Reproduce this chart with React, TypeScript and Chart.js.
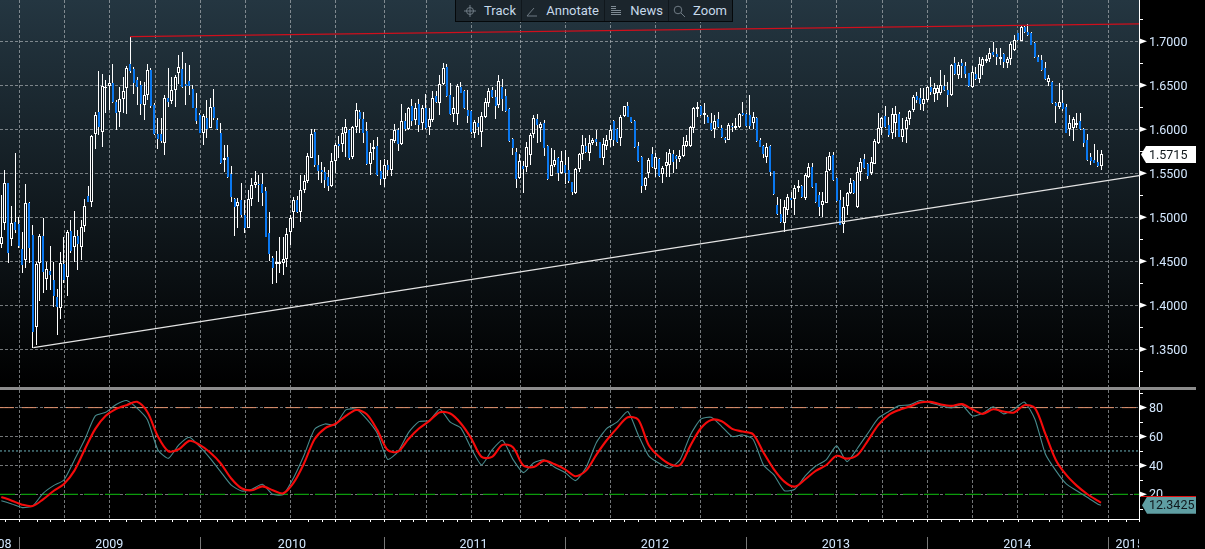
import React, { useEffect, useRef } from "react";
import { Chart, registerables } from "chart.js";

Chart.register(...registerables);

const opens = [
  1.4701,1.4932,1.5394,1.475,1.4947,1.4924,1.4636,1.4515,1.5159,1.4799,
  1.3758,1.4485,1.4788,1.4295,1.4394,1.4288,1.4091,1.3966,1.447,1.4326,
  1.4845,1.4667,1.4788,1.4659,1.4905,1.5242,1.5178,1.5943,1.6201,1.5973,
  1.6466,1.6492,1.6523,1.6314,1.6201,1.6341,1.6466,1.6739,1.6686,1.6561,
  1.6504,1.6273,1.6394,1.6674,1.6273,1.5947,1.5947,1.5841,1.636,1.6318,
  1.6443,1.6644,1.6682,1.6515,1.6549,1.6455,1.6246,1.6163,1.5962,1.6129,
  1.6019,1.6258,1.6106,1.5955,1.5655,1.5682,1.5492,1.5205,1.5133,1.5197,
  1.5023,1.4883,1.5205,1.5367,1.5379,1.5379,1.5295,1.4818,1.4538,1.4473,
  1.4466,1.4477,1.4523,1.483,1.5064,1.5193,1.5064,1.5307,1.5417,1.5678,
  1.5973,1.5595,1.5538,1.5515,1.5458,1.5356,1.564,1.583,1.5833,1.5962,
  1.5992,1.5689,1.603,1.6201,1.6117,1.5981,1.5606,1.5773,1.5811,1.5527,
  1.5439,1.5595,1.5534,1.5871,1.5992,1.5833,1.6095,1.6004,1.6269,1.6106,
  1.6284,1.6076,1.6242,1.6027,1.6106,1.6379,1.6295,1.6511,1.6705,1.639,
  1.6174,1.6174,1.6485,1.6436,1.622,1.6208,1.5962,1.6068,1.5973,1.6136,
  1.6303,1.6447,1.6364,1.628,1.6477,1.6379,1.6231,1.5886,1.5742,1.5447,
  1.5583,1.5568,1.5705,1.5951,1.6114,1.6011,1.6068,1.5807,1.5473,1.5598,
  1.5674,1.5508,1.5591,1.5534,1.5398,1.5273,1.5553,1.572,1.5811,1.5735,
  1.5841,1.5886,1.5852,1.5678,1.5814,1.5879,1.6095,1.6,1.5905,1.6155,
  1.6265,1.614,1.6095,1.5811,1.5686,1.536,1.5508,1.572,1.5549,1.5663,
  1.5496,1.5587,1.5595,1.5716,1.5701,1.5667,1.5697,1.5807,1.5814,1.6011,
  1.6227,1.6265,1.6167,1.614,1.6076,1.6008,1.6114,1.6015,1.5905,1.5883,
  1.6038,1.6015,1.603,1.6182,1.6174,1.6163,1.6076,1.6129,1.5879,1.5811,
  1.5689,1.5814,1.5523,1.514,1.5038,1.4932,1.5087,1.522,1.5205,1.533,
  1.5356,1.522,1.5455,1.5568,1.5386,1.5254,1.5136,1.5167,1.5538,1.5708,
  1.5447,1.5197,1.4924,1.5129,1.5273,1.5409,1.5114,1.5515,1.5659,1.5606,
  1.55,1.561,1.5841,1.6019,1.6152,1.6045,1.5955,1.6068,1.6174,1.5913,
  1.6008,1.6121,1.6223,1.6379,1.6356,1.6288,1.6333,1.6477,1.6402,1.6409,
  1.6409,1.6492,1.6447,1.639,1.675,1.6617,1.675,1.672,1.6636,1.6477,
  1.6629,1.6576,1.672,1.678,1.6803,1.6875,1.6852,1.6795,1.6856,1.6758,
  1.6795,1.6902,1.7091,1.7008,1.7159,1.7102,1.7098,1.6985,1.6818,1.6784,
  1.6693,1.6534,1.6542,1.6295,1.625,1.6295,1.625,1.6,1.6019,1.6049,
  1.6098,1.6,1.5879,1.5682,1.5648,1.5633,1.5587,
];

const closes = [
  1.4777,1.5386,1.4598,1.4932,1.4856,1.4674,1.4458,1.5159,1.4655,1.3701,
  1.447,1.4788,1.4383,1.4409,1.4345,1.4106,1.3985,1.4477,1.4288,1.483,
  1.4617,1.4788,1.4697,1.4886,1.5129,1.5178,1.5924,1.6163,1.603,1.6492,
  1.6477,1.653,1.6314,1.6189,1.6341,1.6432,1.6693,1.6667,1.653,1.6485,
  1.6288,1.6386,1.667,1.6265,1.5947,1.589,1.5867,1.6352,1.6314,1.6443,
  1.6598,1.6705,1.6477,1.6492,1.6492,1.6246,1.6098,1.5962,1.6148,1.6004,
  1.625,1.6125,1.6004,1.5617,1.567,1.5455,1.5235,1.5114,1.517,1.5027,
  1.4883,1.5205,1.5364,1.5398,1.5364,1.528,1.478,1.4583,1.4428,1.4496,
  1.4496,1.4523,1.4807,1.4989,1.5193,1.5064,1.5307,1.5413,1.5697,1.5947,
  1.5595,1.5527,1.5515,1.5424,1.5356,1.564,1.5822,1.5814,1.5955,1.6023,
  1.5678,1.6023,1.6216,1.6117,1.5962,1.5606,1.5742,1.5795,1.5481,1.5439,
  1.5591,1.5538,1.589,1.5992,1.5833,1.6095,1.6004,1.6242,1.6095,1.6242,
  1.6049,1.6242,1.6015,1.6114,1.6352,1.6311,1.6515,1.6697,1.6379,1.6174,
  1.6239,1.6492,1.6417,1.6239,1.6152,1.597,1.608,1.6023,1.6152,1.6307,
  1.6439,1.6364,1.6265,1.6545,1.6341,1.6212,1.5871,1.5792,1.5436,1.5644,
  1.5553,1.5795,1.5932,1.6125,1.6049,1.6057,1.5792,1.5439,1.5591,1.5648,
  1.55,1.5636,1.55,1.5417,1.5292,1.5545,1.5716,1.5818,1.5742,1.5841,
  1.5875,1.586,1.5678,1.5833,1.5879,1.5992,1.5879,1.586,1.6136,1.6261,
  1.6144,1.608,1.5799,1.564,1.5356,1.5447,1.5652,1.5576,1.5686,1.5473,
  1.5557,1.5633,1.5727,1.5629,1.5663,1.5693,1.5826,1.5867,1.6027,1.6239,
  1.625,1.6159,1.6182,1.6076,1.5992,1.6095,1.6027,1.5909,1.5875,1.6049,
  1.6023,1.6038,1.6174,1.6163,1.6038,1.6038,1.6136,1.5867,1.5803,1.572,
  1.5795,1.5519,1.5261,1.5038,1.4951,1.5114,1.5227,1.5193,1.533,1.536,
  1.5227,1.5481,1.5568,1.5348,1.5178,1.5114,1.5182,1.553,1.5693,1.5424,
  1.5186,1.4917,1.5121,1.5273,1.5386,1.5273,1.5519,1.5625,1.5561,1.5473,
  1.5625,1.5867,1.6011,1.6125,1.603,1.5932,1.617,1.617,1.5917,1.6,
  1.6106,1.6208,1.6367,1.6333,1.6288,1.6348,1.6477,1.6424,1.6466,1.6466,
  1.6508,1.6447,1.639,1.6731,1.6629,1.6731,1.672,1.6629,1.6492,1.6648,
  1.6568,1.6739,1.6795,1.6795,1.6864,1.6845,1.6826,1.6818,1.6765,1.6803,
  1.697,1.7011,1.7015,1.7159,1.7102,1.7072,1.6962,1.6818,1.6769,1.6674,
  1.6572,1.658,1.6295,1.6269,1.6307,1.6227,1.5962,1.6068,1.6114,1.6068,
  1.6,1.5848,1.5652,1.564,1.5621,1.5587,1.5715,
];

const highs = [
  1.5254,1.5538,1.5394,1.5129,1.5727,1.5008,1.4837,1.5379,1.5178,1.4913,
  1.4496,1.4811,1.4989,1.4496,1.4674,1.4496,1.4182,1.461,1.478,1.4856,
  1.497,1.5076,1.4856,1.497,1.5205,1.5356,1.5936,1.6193,1.6667,1.6629,
  1.6561,1.6617,1.6739,1.6333,1.6485,1.6591,1.6723,1.7053,1.6712,1.6598,
  1.6549,1.6542,1.6739,1.6693,1.6295,1.6125,1.6125,1.639,1.6693,1.6598,
  1.6614,1.6845,1.6883,1.675,1.6731,1.6504,1.6417,1.6182,1.617,1.6333,
  1.6352,1.6458,1.6125,1.6068,1.5822,1.5822,1.5587,1.5216,1.5216,1.5394,
  1.5197,1.5311,1.5443,1.5527,1.5481,1.55,1.5348,1.5061,1.456,1.4617,
  1.4773,1.4773,1.4883,1.5027,1.5235,1.5242,1.5481,1.5481,1.5727,1.6004,
  1.6004,1.5708,1.5633,1.5576,1.5538,1.5727,1.5841,1.5924,1.6023,1.6114,
  1.6,1.6038,1.6295,1.622,1.6201,1.6087,1.5841,1.5879,1.5909,1.5652,
  1.5659,1.5652,1.589,1.6061,1.6011,1.6288,1.6182,1.6258,1.6341,1.6295,
  1.6341,1.6277,1.6402,1.6239,1.6436,1.6436,1.6617,1.675,1.6742,1.6523,
  1.6371,1.6515,1.6542,1.6447,1.6447,1.622,1.6106,1.6144,1.6201,1.6352,
  1.6466,1.6485,1.6447,1.6617,1.6568,1.6455,1.6239,1.5898,1.5784,1.572,
  1.5644,1.586,1.5955,1.6163,1.6174,1.6087,1.6106,1.5822,1.5784,1.5765,
  1.5689,1.5758,1.5765,1.5682,1.5405,1.5557,1.5727,1.5936,1.5898,1.5936,
  1.5898,1.5992,1.586,1.5898,1.5936,1.6049,1.6106,1.6011,1.6163,1.6261,
  1.6314,1.6144,1.6106,1.586,1.5697,1.5462,1.567,1.5795,1.5727,1.567,
  1.5583,1.5746,1.5777,1.5765,1.5708,1.5765,1.5909,1.5936,1.6042,1.6258,
  1.6307,1.6277,1.6295,1.6163,1.6189,1.6163,1.6201,1.6049,1.5917,1.6068,
  1.6076,1.6125,1.6189,1.6307,1.6182,1.639,1.6201,1.6144,1.5898,1.5822,
  1.5841,1.5822,1.553,1.5235,1.5205,1.5197,1.5261,1.5292,1.5367,1.5424,
  1.5367,1.55,1.5614,1.5614,1.5394,1.5292,1.5292,1.5689,1.5746,1.5746,
  1.5462,1.5311,1.5235,1.5292,1.5443,1.5424,1.5576,1.567,1.572,1.5614,
  1.5682,1.589,1.6182,1.6144,1.6265,1.6136,1.6239,1.6265,1.6201,1.6125,
  1.6136,1.622,1.639,1.6428,1.6466,1.6466,1.6492,1.6598,1.6523,1.6504,
  1.6674,1.6617,1.6542,1.6742,1.6826,1.6769,1.6795,1.6769,1.6644,1.672,
  1.6712,1.6826,1.6826,1.6845,1.692,1.6996,1.692,1.692,1.6864,1.6826,
  1.6996,1.7072,1.7098,1.7186,1.7174,1.7197,1.711,1.6996,1.6845,1.6845,
  1.6769,1.6617,1.6553,1.6314,1.6523,1.6447,1.6288,1.6163,1.6144,1.6182,
  1.6182,1.6011,1.5943,1.5735,1.5833,1.5765,1.5765,
];

const lows = [
  1.4648,1.4856,1.4485,1.4674,1.4818,1.4648,1.4371,1.442,1.4477,1.3519,
  1.3549,1.4053,1.4136,1.4174,1.4174,1.3977,1.3663,1.3845,1.425,1.411,
  1.4591,1.4496,1.4402,1.4515,1.483,1.517,1.5121,1.578,1.5936,1.5803,
  1.6189,1.622,1.6295,1.5992,1.6023,1.6182,1.6174,1.6636,1.6402,1.6277,
  1.6163,1.6106,1.6333,1.6239,1.5936,1.5777,1.5841,1.5705,1.625,1.6288,
  1.625,1.6515,1.6466,1.6277,1.639,1.6239,1.6061,1.5955,1.5826,1.5905,
  1.6011,1.6106,1.5992,1.5606,1.5519,1.5443,1.5174,1.4792,1.4875,1.5008,
  1.4818,1.4875,1.5129,1.533,1.5178,1.5129,1.4773,1.4508,1.4242,1.425,
  1.4364,1.4345,1.4439,1.4686,1.4875,1.5045,1.4951,1.5273,1.5386,1.567,
  1.5576,1.5424,1.5386,1.533,1.5303,1.5348,1.55,1.5678,1.5746,1.5689,
  1.5652,1.5659,1.5955,1.5955,1.5848,1.5595,1.5485,1.5652,1.547,1.5367,
  1.5348,1.547,1.547,1.5841,1.5758,1.5822,1.5985,1.5992,1.6038,1.6049,
  1.5973,1.5992,1.6008,1.5936,1.608,1.6295,1.6163,1.6504,1.6371,1.6163,
  1.6087,1.6049,1.6409,1.6227,1.6076,1.5947,1.5898,1.5936,1.5803,1.6125,
  1.625,1.6352,1.6121,1.6239,1.6212,1.6201,1.586,1.5708,1.533,1.5439,
  1.528,1.5519,1.5595,1.5898,1.5848,1.586,1.5697,1.5424,1.5466,1.5568,
  1.5417,1.5492,1.5375,1.5386,1.5254,1.5265,1.5515,1.5652,1.5727,1.5644,
  1.5822,1.5811,1.567,1.5595,1.5765,1.5803,1.5811,1.5841,1.5811,1.6144,
  1.6136,1.6068,1.5792,1.5633,1.528,1.5311,1.5447,1.5557,1.5455,1.5462,
  1.5394,1.5455,1.5455,1.55,1.5549,1.5633,1.5689,1.5795,1.5803,1.5955,
  1.6144,1.6152,1.6061,1.6068,1.5985,1.5902,1.6011,1.5898,1.5841,1.5875,
  1.5973,1.5992,1.6011,1.6152,1.603,1.6,1.6,1.586,1.5795,1.567,
  1.5614,1.5473,1.5254,1.503,1.494,1.483,1.5027,1.5102,1.5027,1.5292,
  1.5216,1.5197,1.5443,1.533,1.5167,1.5015,1.5,1.5159,1.553,1.5417,
  1.5178,1.4909,1.4818,1.5027,1.5265,1.5265,1.5106,1.5417,1.5545,1.5432,
  1.5481,1.5602,1.5833,1.5936,1.6011,1.5917,1.5894,1.5909,1.5909,1.586,
  1.5848,1.6049,1.6201,1.6295,1.622,1.6208,1.6314,1.639,1.6314,1.6333,
  1.639,1.6439,1.6258,1.6383,1.6617,1.6572,1.658,1.658,1.6485,1.6466,
  1.6561,1.653,1.6617,1.675,1.6769,1.6818,1.6731,1.6731,1.6697,1.6701,
  1.6731,1.6894,1.7008,1.7,1.7091,1.7061,1.6955,1.6811,1.6761,1.6667,
  1.6561,1.6492,1.6288,1.6068,1.6227,1.6212,1.5955,1.5924,1.5871,1.6011,
  1.5992,1.5795,1.5644,1.5598,1.5614,1.5576,1.5538,
];

const oscillatorFast = [
  15.6,13.3,10.8,11.9,20.7,26.0,29.9,43.8,58.1,74.3,
  76.8,82.1,84.9,79.6,71.5,50.7,44.9,54.2,59.5,53.0,
  44.9,35.7,26.5,22.3,23.5,26.9,20.0,19.8,31.5,47.2,
  65.0,68.7,68.0,78.4,78.9,72.0,62.3,44.2,49.6,62.7,
  70.3,71.0,78.9,69.9,66.0,51.9,40.3,50.7,57.4,44.2,
  35.0,41.9,43.8,38.7,35.0,29.5,38.5,55.8,65.7,70.1,
  77.3,61.1,46.6,41.5,38.2,43.8,61.1,72.0,73.3,66.9,
  60.0,61.1,58.1,40.3,33.4,22.5,23.5,32.7,39.6,43.8,
  53.5,42.6,51.9,62.3,72.7,77.3,81.4,81.9,84.9,83.3,
  81.2,79.8,81.9,74.3,76.1,80.5,75.7,78.9,83.8,72.0,
  47.9,36.4,27.2,22.5,17.9,13.3,12.34,
];

const oscillatorSlow = [
  18.2,15.6,12.8,11.9,16.5,22.3,27.2,36.4,51.2,65.3,
  74.3,79.1,81.7,84.0,76.8,60.0,49.8,51.2,57.0,54.2,
  48.9,41.5,31.1,24.2,22.8,25.5,22.8,20.7,28.1,41.5,
  58.1,65.7,68.7,74.3,78.4,75.4,64.6,50.7,49.6,58.3,
  65.5,70.8,76.8,75.9,69.2,58.8,45.9,45.9,54.2,52.6,
  39.9,38.9,43.3,40.8,37.3,32.5,36.4,47.5,57.6,66.0,
  73.3,71.7,54.2,46.1,41.0,40.3,53.7,65.7,71.5,70.6,
  65.3,63.4,61.6,48.9,37.3,28.8,25.3,30.4,36.2,40.1,
  46.6,44.7,47.2,57.2,68.0,75.0,78.4,80.7,83.5,84.0,
  82.1,81.2,82.4,78.9,75.7,78.9,77.3,76.6,81.7,79.6,
  61.8,43.8,33.4,26.0,20.2,15.6,14.2,
];

const oscillatorWeeks = [
  0,3,6,9,12,15,18,21,24,27,30,33,36,39,42,45,48,51,54,57,
  60,63,66,69,72,75,78,81,84,87,90,93,96,99,102,105,108,111,114,117,
  120,123,126,129,132,135,138,141,144,147,150,153,156,159,162,165,168,171,174,177,
  180,183,186,189,192,195,198,201,204,207,210,213,216,219,222,225,228,231,234,237,
  240,243,246,249,252,255,258,261,264,267,270,273,276,279,282,285,288,291,294,297,
  300,303,306,309,312,315,316,
];

const resistanceLine = [{ x: 37, y: 1.7052 }, { x: 326.9, y: 1.7197 }];
const supportLine = [{ x: 9.2, y: 1.3518 }, { x: 326.9, y: 1.5473 }];

const priceTicks = [1.35, 1.4, 1.45, 1.5, 1.55, 1.6, 1.65, 1.7];
const minorPriceTicks = [1.325, 1.375, 1.425, 1.475, 1.525, 1.575, 1.625, 1.675, 1.725];
const oscillatorTicks = [20, 40, 60, 80];
const minorOscillatorTicks = [10, 30, 50, 70, 90];
const levelOver = 80;
const levelMid = 50;
const levelUnder = 20;

const gridWeeks = [
  5.2,18.1,31,44.2,57.2,70.1,83,96,110,122.1,135,149.1,162,175,187.9,200.9,
  214,227,240,253.1,266.1,279,292,305,318.2,
];
const monthWeeks = [
  1,5.2,10.2,14,18.1,22.6,27,31,35.8,40.2,44.2,49.1,53.3,57.2,61.9,66.2,70.1,75,79,83,
  88.2,92,96,100.2,106,110,114.6,118.2,122.1,127,131,135,140,144,149.1,153.3,157.2,162,
  166.1,170.1,175,179,183,187.9,192,196,201.1,205.2,209.2,214.1,218.1,222.2,227,231,
  235.9,240,244.3,249.1,253.2,257,262.1,266.1,270.1,275.1,279,283.1,287.9,292.1,296.1,
  301.1,304.9,310.2,314.2,318.1,323.1,
];
const yearLabels = ["2008", "2009", "2010", "2011", "2012", "2013", "2014", "2015"];
const yearCentres = [-1.1, 31, 83.5, 135.7, 187.8, 239.8, 291.9, 324.2];
const yearBreaks = [5.2, 57.2, 110, 162, 214, 266.1, 318.1];

const lastPrice = "1.5715";
const lastPriceValue = 1.5715;
const lastOscillator = "12.3425";
const lastOscillatorValue = 12.3425;
const toolbarItems = ["Track", "Annotate", "News", "Zoom"];

const X_MIN = -0.382;
const X_MAX = 326.9;
const FONT = "Roboto, sans-serif";
const AXIS_TEXT = "#d4e8ff";
const GRID = "rgba(190,195,198,0.6)";

const snapBars = {
  id: "snapBars",
  afterDatasetsUpdate(chart: any) {
    chart.data.datasets.forEach((ds: any, n: number) => {
      if (ds.type !== "bar") return;
      const w = ds.barThickness;
      chart.getDatasetMeta(n).data.forEach((el: any) => {
        el.x = Math.round(el.x - w / 2) + w / 2;
        const a = Math.round(el.y);
        let b = Math.round(el.base);
        if (a === b) b = a + 1;
        el.y = a;
        el.base = b;
      });
    });
  },
};

function nudgeLabels(scale: any, chart: any, dy: number) {
  scale.getLabelItems(chart.chartArea).forEach((item: any) => {
    if (item.nudged) return;
    item.nudged = true;
    item.options.translation[1] += dy;
  });
}

function drawPointer(ctx: CanvasRenderingContext2D, x: number, y: number) {
  ctx.fillStyle = "#fff";
  ctx.beginPath();
  ctx.moveTo(x, y - 3);
  ctx.lineTo(x + 8, y);
  ctx.lineTo(x, y + 3);
  ctx.closePath();
  ctx.fill();
}

function drawFlag(
  ctx: CanvasRenderingContext2D,
  y: number,
  text: string,
  fill: string,
  left: number,
  halfHeight: number
) {
  ctx.fillStyle = fill;
  ctx.beginPath();
  ctx.moveTo(left, y);
  ctx.lineTo(left + 5, y - halfHeight);
  ctx.lineTo(1196, y - halfHeight);
  ctx.lineTo(1196, y + halfHeight);
  ctx.lineTo(left + 5, y + halfHeight);
  ctx.closePath();
  ctx.fill();
  ctx.fillStyle = "#10181c";
  ctx.font = `12.5px ${FONT}`;
  ctx.textAlign = "left";
  ctx.textBaseline = "middle";
  ctx.fillText(text, 1149, y + 1);
}

const priceDecor = {
  id: "priceDecor",
  beforeDraw(chart: any) {
    const { ctx, chartArea: a } = chart;
    const g = ctx.createLinearGradient(0, a.top, 0, a.bottom);
    g.addColorStop(0, "#243641");
    g.addColorStop(1, "#000000");
    ctx.save();
    ctx.fillStyle = g;
    ctx.fillRect(a.left, a.top, a.right - a.left, a.bottom - a.top);
    ctx.restore();
    nudgeLabels(chart.scales.y, chart, 1.5);
  },
  afterDraw(chart: any) {
    const { ctx, chartArea: a, scales } = chart;
    ctx.save();
    ctx.strokeStyle = "#fff";
    minorPriceTicks.forEach((v) => {
      const y = Math.round(scales.y.getPixelForValue(v)) + 0.5;
      ctx.beginPath();
      ctx.moveTo(a.right, y);
      ctx.lineTo(a.right + 4, y);
      ctx.stroke();
    });
    priceTicks.forEach((v) => drawPointer(ctx, a.right, scales.y.getPixelForValue(v)));
    drawFlag(ctx, scales.y.getPixelForValue(lastPriceValue), lastPrice, "#ffffff", 1141, 8.5);
    ctx.restore();
  },
};

const oscillatorDecor = {
  id: "oscillatorDecor",
  beforeDraw(chart: any) {
    nudgeLabels(chart.scales.y, chart, 1);
  },
  afterDraw(chart: any) {
    const { ctx, chartArea: a, scales } = chart;
    ctx.save();
    ctx.strokeStyle = "#fff";
    minorOscillatorTicks.forEach((v) => {
      const y = Math.round(scales.y.getPixelForValue(v)) + 0.5;
      ctx.beginPath();
      ctx.moveTo(a.right, y);
      ctx.lineTo(a.right + 4, y);
      ctx.stroke();
    });
    oscillatorTicks.forEach((v) => drawPointer(ctx, a.right, scales.y.getPixelForValue(v)));
    monthWeeks.forEach((w) => {
      const x = Math.round(scales.x.getPixelForValue(w)) + 0.5;
      ctx.beginPath();
      ctx.moveTo(x, a.bottom);
      ctx.lineTo(x, a.bottom + 3);
      ctx.stroke();
    });
    ctx.beginPath();
    ctx.moveTo(a.right + 0.5, a.bottom);
    ctx.lineTo(a.right + 0.5, a.bottom + 3);
    ctx.stroke();
    ctx.strokeStyle = "#777";
    yearBreaks.forEach((w) => {
      const x = Math.round(scales.x.getPixelForValue(w)) + 0.5;
      ctx.beginPath();
      ctx.moveTo(x, 147);
      ctx.lineTo(x, 159);
      ctx.stroke();
    });
    ctx.save();
    ctx.beginPath();
    ctx.rect(0, a.bottom, a.right, 40);
    ctx.clip();
    ctx.fillStyle = AXIS_TEXT;
    ctx.font = `12.5px ${FONT}`;
    ctx.textAlign = "center";
    ctx.textBaseline = "middle";
    yearLabels.forEach((t, i) => {
      ctx.fillText(t, scales.x.getPixelForValue(yearCentres[i]), 154.5);
    });
    ctx.restore();
    const y = scales.y.getPixelForValue(lastOscillatorValue);
    drawFlag(ctx, y, lastOscillator, "#5f9ea3", 1142, 8.5);
    ctx.strokeStyle = "#e01010";
    const ry = y - 9.5;
    ctx.beginPath();
    ctx.moveTo(a.right + 2, Math.round(ry) + 0.5);
    ctx.lineTo(1196, Math.round(ry) + 0.5);
    ctx.stroke();
    ctx.restore();
  },
};

function xScale(showBorder: boolean) {
  return {
    type: "linear",
    offset: false,
    min: X_MIN,
    max: X_MAX,
    afterBuildTicks(scale: any) {
      scale.ticks = gridWeeks.map((value) => ({ value }));
    },
    afterFit(scale: any) {
      scale.height = 0;
      scale.paddingLeft = 0;
      scale.paddingRight = 0;
    },
    ticks: { display: false, autoSkip: false },
    grid: { color: GRID, drawTicks: false, lineWidth: 1, offset: false },
    border: { display: showBorder, color: "#fff", dash: [3, 2] },
  };
}

function yScale(min: number, max: number, ticks: number[], digits: number) {
  return {
    position: "right",
    min,
    max,
    afterBuildTicks(scale: any) {
      scale.ticks = ticks.map((value) => ({ value }));
    },
    afterFit(scale: any) {
      scale.width = 66;
      scale.paddingTop = 0;
      scale.paddingBottom = 0;
    },
    ticks: {
      autoSkip: false,
      padding: 10,
      color: AXIS_TEXT,
      font: { family: FONT, size: 12.5 },
      callback: (v: any) => Number(v).toFixed(digits),
    },
    grid: { color: GRID, drawTicks: false, lineWidth: 1 },
    border: { display: true, color: "#fff", dash: [3, 2] },
  };
}

const baseOptions = {
  responsive: false,
  maintainAspectRatio: false,
  animation: false,
  devicePixelRatio: 1,
  events: [],
  plugins: { legend: { display: false }, tooltip: { enabled: false } },
};

function levelData(v: number) {
  return [{ x: X_MIN, y: v }, { x: X_MAX, y: v }];
}

const icons: Record<string, React.ReactNode> = {
  Track: (
    <g stroke="#6f7b84" fill="none" strokeWidth="1">
      <circle cx="7" cy="7" r="3.5" />
      <path d="M7 1v12M1 7h12" />
    </g>
  ),
  Annotate: (
    <g stroke="#6f7b84" fill="none" strokeWidth="1">
      <path d="M2 12L9 4M2 12h10" />
    </g>
  ),
  News: (
    <g stroke="#7f8b94" fill="none" strokeWidth="1">
      <path d="M2 2.5h5M2 4.5h5M2 6.5h10M2 8.5h10M2 10.5h10" />
    </g>
  ),
  Zoom: (
    <g stroke="#6f7b84" fill="none" strokeWidth="1">
      <circle cx="6" cy="6" r="3.8" />
      <path d="M9 9l4 4" />
    </g>
  ),
};
const toolbarWidths: Record<string, number> = { Track: 65, Annotate: 83, News: 64, Zoom: 64 };

export default function App() {
  const topRef = useRef<HTMLCanvasElement>(null);
  const bottomRef = useRef<HTMLCanvasElement>(null);

  useEffect(() => {
    const wicks = highs.map((h, i) => ({ x: i, y: [lows[i], h] }));
    const up: any[] = [];
    const down: any[] = [];
    opens.forEach((o, i) => {
      const c = closes[i];
      (c >= o ? up : down).push({ x: i, y: [Math.min(o, c), Math.max(o, c)] });
    });
    const bar = {
      type: "bar",
      grouped: false,
      inflateAmount: 0,
      borderSkipped: false,
    };
    const top = new Chart(topRef.current as any, {
      type: "bar",
      data: {
        datasets: [
          { ...bar, label: "Range", data: wicks, barThickness: 1, backgroundColor: "#ffffff", borderWidth: 0, order: 5 },
          { ...bar, label: "Down", data: down, barThickness: 2, backgroundColor: "#0a78f0", borderWidth: 0, order: 4 },
          { ...bar, label: "Up", data: up, barThickness: 3, backgroundColor: "#0a1116", borderColor: "#ffffff", borderWidth: 1, order: 3 },
          { type: "line", label: "Resistance", data: resistanceLine, borderColor: "#d00f1c", borderWidth: 1.3, pointRadius: 0, order: 1 },
          { type: "line", label: "Support", data: supportLine, borderColor: "#e4e4e4", borderWidth: 1.2, pointRadius: 0, order: 1 },
        ],
      },
      options: {
        ...baseOptions,
        scales: { x: xScale(false), y: yScale(1.30716, 1.74693, priceTicks, 4) },
      },
      plugins: [snapBars, priceDecor],
    } as any);

    const fast = oscillatorWeeks.map((x, i) => ({ x, y: oscillatorFast[i] }));
    const slow = oscillatorWeeks.map((x, i) => ({ x, y: oscillatorSlow[i] }));
    const bottom = new Chart(bottomRef.current as any, {
      type: "line",
      data: {
        datasets: [
          { label: "Over", data: levelData(levelOver), borderColor: "#e0906c", borderWidth: 1, borderDash: [14, 8], pointRadius: 0, order: 5 },
          { label: "Mid", data: levelData(levelMid), borderColor: "#6db3bd", borderWidth: 1, borderDash: [2, 2], pointRadius: 0, order: 5 },
          { label: "Under", data: levelData(levelUnder), borderColor: "#0c9a0c", borderWidth: 1.2, borderDash: [15, 6], pointRadius: 0, order: 5 },
          { label: "Fast", data: fast, borderColor: "#478a8c", borderWidth: 1.1, pointRadius: 0, tension: 0.2, order: 3 },
          { label: "Slow", data: slow, borderColor: "#f50b0b", borderWidth: 2.1, pointRadius: 0, tension: 0.3, order: 2 },
        ],
      },
      options: {
        ...baseOptions,
        layout: { padding: { bottom: 30 } },
        scales: { x: xScale(true), y: yScale(2.9, 92.2, oscillatorTicks, 0) },
      },
      plugins: [oscillatorDecor],
    } as any);

    return () => {
      top.destroy();
      bottom.destroy();
    };
  }, []);

  return (
    <div style={{ position: "fixed", left: 0, top: 0, width: 1205, height: 549, background: "#000", overflow: "hidden" }}>
      <canvas ref={topRef} width={1205} height={387} style={{ position: "absolute", left: 0, top: 0, display: "block" }} />
      <div style={{ position: "absolute", left: 0, top: 387, width: 1196, height: 3, background: "#8c8c8c" }} />
      <canvas ref={bottomRef} width={1205} height={159} style={{ position: "absolute", left: 0, top: 390, display: "block" }} />
      <div
        style={{
          position: "absolute",
          left: 455,
          top: 0,
          height: 21,
          display: "flex",
          background: "#1b252c",
          border: "1px solid #05080a",
          borderTop: "none",
          fontFamily: FONT,
          fontSize: 13,
          color: "#c6d9ea",
          lineHeight: "21px",
        }}
      >
        {toolbarItems.map((t, i) => (
          <div
            key={t}
            style={{
              width: toolbarWidths[t],
              display: "flex",
              alignItems: "center",
              justifyContent: "flex-end",
              paddingRight: 5,
              boxSizing: "border-box",
              borderLeft: i ? "1px solid #10171c" : "none",
            }}
          >
            <svg width="14" height="14" style={{ marginRight: 7 }}>
              {icons[t]}
            </svg>
            <span>{t}</span>
          </div>
        ))}
      </div>
    </div>
  );
}
